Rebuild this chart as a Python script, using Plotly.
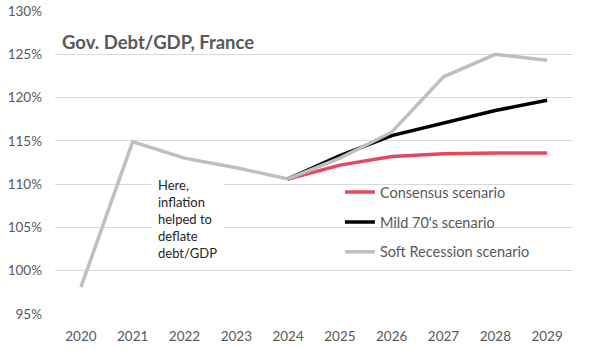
import plotly.graph_objects as go

years = ["2020", "2021", "2022", "2023", "2024", "2025", "2026", "2027", "2028", "2029"]
history = [98.1, 114.9, 113.0, 111.9, 110.6]
proj_years = ["2024", "2025", "2026", "2027", "2028", "2029"]
consensus = [110.6, 112.2, 113.2, 113.5, 113.6, 113.6]
mild70s = [110.6, 113.3, 115.6, 117.1, 118.5, 119.7]
soft_rec = [110.6, 113.0, 116.0, 122.4, 125.0, 124.3]

FONT = "Lato, Carlito, 'Open Sans', sans-serif"
GRAY_TXT = "#595959"

fig = go.Figure()
fig.add_trace(go.Scatter(x=years[:5], y=history, mode="lines",
                         line=dict(color="#BFBFBF", width=3.5), showlegend=False))
fig.add_trace(go.Scatter(x=proj_years, y=consensus, mode="lines", name="Consensus scenario",
                         legendgroup="a", line=dict(color="#E8485E", width=3.5)))
fig.add_trace(go.Scatter(x=proj_years, y=mild70s, mode="lines", name="Mild 70's scenario",
                         legendgroup="b", line=dict(color="#000000", width=3.5)))
fig.add_trace(go.Scatter(x=proj_years, y=soft_rec, mode="lines", name="Soft Recession scenario",
                         legendgroup="c", line=dict(color="#BFBFBF", width=3.5)))

fig.update_layout(
    width=600, height=350,
    margin=dict(l=55, r=27, t=11, b=36),
    paper_bgcolor="white", plot_bgcolor="white",
    font=dict(family=FONT, size=13, color=GRAY_TXT),
    xaxis=dict(type="category", categoryorder="array", categoryarray=years,
               range=[-0.5, 9.5], showgrid=False, showline=False, zeroline=False,
               automargin=False,
               ticks="", tickfont=dict(size=13.5, color=GRAY_TXT), ticklabelstandoff=12),
    yaxis=dict(range=[95, 130], tickvals=[95, 100, 105, 110, 115, 120, 125, 130],
               ticktext=["95%", "100%", "105%", "110%", "115%", "120%", "125%", "130%"],
               showgrid=True, gridcolor="#D9D9D9", gridwidth=1, zeroline=False,
               automargin=False,
               showline=False, ticks="", tickfont=dict(size=13.5, color=GRAY_TXT),
               ticklabelstandoff=12),
    legend=dict(x=0.55, y=0.455, xanchor="left", yanchor="top",
                bgcolor="rgba(0,0,0,0)", font=dict(size=14.5, color=GRAY_TXT),
                traceorder="grouped", tracegroupgap=8, itemwidth=30),
    showlegend=True,
)

fig.add_annotation(xref="paper", yref="paper", x=0.01, y=0.898, xanchor="left", yanchor="middle",
                   text="<b>Gov. Debt/GDP, France</b>", showarrow=False,
                   font=dict(size=18.5, color=GRAY_TXT, family=FONT))
fig.add_annotation(xref="x", yref="paper", x=1.35, y=0.475, xanchor="left", yanchor="top",
                   text="Here,<br>inflation<br>helped to<br>deflate<br>debt/GDP", showarrow=False,
                   align="left", bgcolor="white", borderpad=6,
                   font=dict(size=13, color="#262626", family=FONT))

fig.write_html("out.html")
